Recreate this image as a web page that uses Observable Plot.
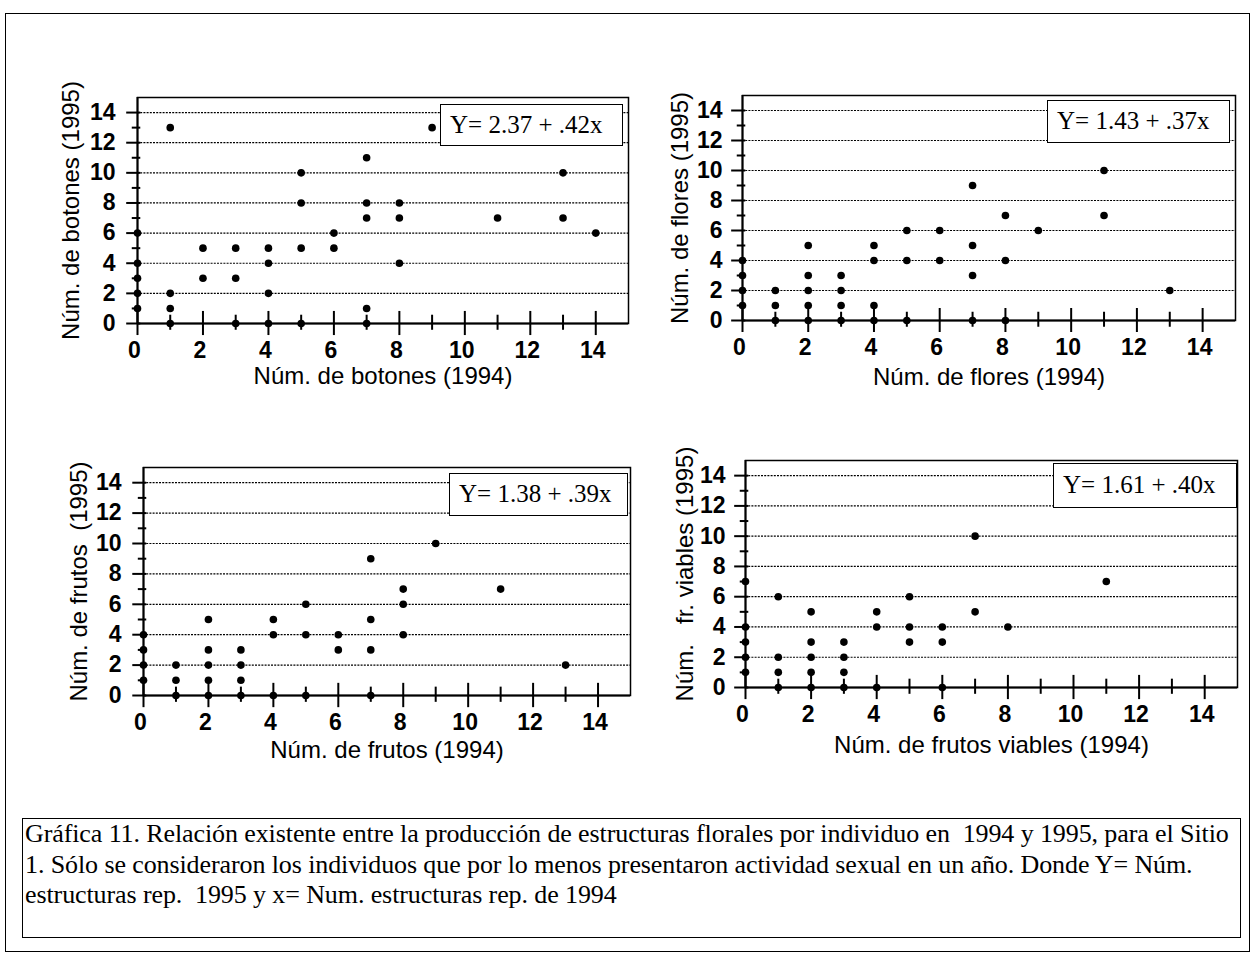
<!DOCTYPE html>
<html>
<head>
<meta charset="utf-8">
<script src="https://cdn.jsdelivr.net/npm/d3@7"></script>
<script src="https://cdn.jsdelivr.net/npm/@observablehq/plot@0.6"></script>
<style>
  body { margin: 0; background: #fff; }
  #fig { position: relative; width: 1254px; height: 956px; overflow: hidden; background: #fff; }
  .outer { position: absolute; left: 5px; top: 13px; width: 1245px; height: 939px; border: 1.5px solid #000; box-sizing: border-box; }
  .panel { position: absolute; }
  .eq { position: absolute; background: #fff; border: 1.5px solid #000; box-sizing: border-box;
        font-family: "Liberation Serif", "Times New Roman", serif; font-size: 25px; color: #000;
        padding-left: 9px; line-height: 40px; white-space: pre; }
  .caption { position: absolute; left: 22px; top: 818px; width: 1219px; height: 120px; border: 1.5px solid #000;
        box-sizing: border-box; font-family: "Liberation Serif", "Times New Roman", serif; font-size: 26px;
        line-height: 30.5px; padding: 0 0 0 2px; color: #000; white-space: pre; letter-spacing: -0.1px; }
</style>
</head>
<body>
<div id="fig"><div class="outer"></div></div>
<script>
// ---- data (individuals: structures in 1994 vs 1995) ----
const botones94 = [1, 9, 7, 5, 13, 5, 7, 8, 7, 8, 11, 13, 14, 6, 0, 2, 3, 4, 5, 6, 0, 4, 8, 2, 3, 0, 0, 1, 4, 0, 1, 7, 1, 3, 4, 5, 7];
const botones95 = [13, 13, 11, 10, 10, 8, 8, 8, 7, 7, 7, 7, 6, 6, 6, 5, 5, 5, 5, 5, 4, 4, 4, 3, 3, 3, 2, 2, 2, 1, 1, 1, 0, 0, 0, 0, 0];

const flores94 = [11, 7, 8, 11, 5, 6, 9, 2, 4, 7, 0, 4, 5, 6, 8, 2, 3, 7, 0, 0, 1, 2, 3, 13, 0, 1, 2, 3, 4, 1, 2, 3, 4, 5, 7, 8];
const flores95 = [10, 9, 7, 7, 6, 6, 6, 5, 5, 5, 4, 4, 4, 4, 4, 3, 3, 3, 3, 2, 2, 2, 2, 2, 1, 1, 1, 1, 1, 0, 0, 0, 0, 0, 0, 0];

const frutos94 = [9, 7, 8, 11, 5, 8, 2, 4, 7, 0, 4, 5, 6, 8, 2, 3, 6, 7, 0, 0, 1, 2, 3, 13, 0, 1, 2, 3, 1, 2, 3, 4, 5, 7];
const frutos95 = [10, 9, 7, 7, 6, 6, 5, 5, 5, 4, 4, 4, 4, 4, 3, 3, 3, 3, 3, 2, 2, 2, 2, 2, 1, 1, 1, 1, 0, 0, 0, 0, 0, 0];

const viables94 = [7, 11, 0, 1, 5, 2, 4, 7, 0, 4, 5, 6, 8, 2, 3, 5, 6, 0, 0, 1, 2, 3, 0, 1, 2, 3, 1, 2, 3, 4, 6];
const viables95 = [10, 7, 7, 6, 6, 5, 5, 5, 4, 4, 4, 4, 4, 3, 3, 3, 3, 3, 2, 2, 2, 2, 1, 1, 1, 1, 0, 0, 0, 0, 0];

const tickLabels = [0, 2, 4, 6, 8, 10, 12, 14];
const tickMarks = [0, 1, 2, 3, 4, 5, 6, 7, 8, 9, 10, 11, 12, 13, 14];
const gridValues = [2, 4, 6, 8, 10, 12, 14];

const equations = ["Y= 2.37 + .42x", "Y= 1.43 + .37x", "Y= 1.38 + .39x", "Y= 1.61 + .40x"];
const xTitles = ["Núm. de botones (1994)", "Núm. de flores (1994)", "Núm. de frutos (1994)", "Núm. de frutos viables (1994)"];
const yTitles = ["Núm. de botones (1995)", "Núm. de flores (1995)", "Núm. de frutos\u00a0 (1995)", "Núm.\u00a0\u00a0 fr. viables (1995)"];
const caption = "Gráfica 11. Relación existente entre la producción de estructuras florales por individuo en  1994 y 1995, para el Sitio\n1. Sólo se consideraron los individuos que por lo menos presentaron actividad sexual en un año. Donde Y= Núm.\nestructuras rep.  1995 y x= Num. estructuras rep. de 1994";

// ---- layout ----
const panels = [
  {xs: botones94, ys: botones95, frame: [137, 97, 628, 323], ydx: -66, ypad: 22, xdy: 60, eq: [440, 104, 183, 42]},
  {xs: flores94,  ys: flores95,  frame: [742, 95, 1235, 320], ydx: -62, ypad: 20, xdy: 64, eq: [1047, 100, 183, 43]},
  {xs: frutos94,  ys: frutos95,  frame: [143, 467, 630, 695], ydx: -64, ypad: 22, xdy: 62, eq: [449, 473, 179, 43]},
  {xs: viables94, ys: viables95, frame: [745, 460, 1237, 687], ydx: -60, ypad: 20, xdy: 65, eq: [1053, 463, 184, 45]}
];

const fig = document.getElementById("fig");
const ML = 110, MT = 20, MR = 12, MB = 90;

panels.forEach((p, i) => {
  const [L, T, R, B] = p.frame;
  const data = p.xs.map((x, k) => ({x, y: p.ys[k]}));
  const chart = Plot.plot({
    width: ML + (R - L) + MR,
    height: MT + (B - T) + MB,
    marginLeft: ML, marginTop: MT, marginRight: MR, marginBottom: MB,
    x: {domain: [0, 15]},
    y: {domain: [0, 15]},
    style: {fontFamily: "'Liberation Sans', Arial, sans-serif", fontSize: "23px", color: "#000", background: "transparent", overflow: "visible"},
    marks: [
      Plot.gridY(gridValues, {stroke: "#000", strokeOpacity: 1, strokeWidth: 1.2, strokeDasharray: "2,1.2"}),
      Plot.frame({stroke: "#000", strokeWidth: 1.5}),
      Plot.ruleX(tickMarks, {x: d => d, y1: d => d % 2 === 0 ? -0.8 : -0.45, y2: d => d % 2 === 0 ? 0.8 : 0.55, stroke: "#000", strokeWidth: 2}),
      Plot.ruleY(tickMarks, {y: d => d, x1: d => d % 2 === 0 ? -0.33 : -0.16, x2: 0.1, stroke: "#000", strokeWidth: 2}),
      Plot.ruleY([0], {stroke: "#000", strokeWidth: 2}),
      Plot.ruleX([0], {stroke: "#000", strokeWidth: 2}),
      Plot.dot(data, {x: "x", y: "y", r: 3.8, fill: "#000", stroke: "none"}),
      Plot.axisX(tickLabels, {tickSize: 0, tickPadding: 18, fontSize: 23, fontWeight: "bold", label: null, dx: -3}),
      Plot.axisY(tickLabels, {tickSize: 0, tickPadding: p.ypad, fontSize: 23, fontWeight: "bold", label: null}),
      Plot.text([xTitles[i]], {text: d => d, frameAnchor: "bottom", textAnchor: "middle", dy: p.xdy, fontSize: 24}),
      Plot.text([yTitles[i]], {text: d => d, frameAnchor: "left", textAnchor: "middle", dx: p.ydx, rotate: -90, fontSize: 24})
    ]
  });
  chart.classList.add("panel");
  chart.style.left = (L - ML) + "px";
  chart.style.top = (T - MT) + "px";
  fig.appendChild(chart);

  const eq = document.createElement("div");
  eq.className = "eq";
  const [ex, ey, ew, eh] = p.eq;
  Object.assign(eq.style, {left: ex + "px", top: ey + "px", width: ew + "px", height: eh + "px", lineHeight: (eh - 3) + "px"});
  eq.textContent = equations[i];
  fig.appendChild(eq);
});

const cap = document.createElement("div");
cap.className = "caption";
cap.textContent = caption;
fig.appendChild(cap);
</script>
</body>
</html>
